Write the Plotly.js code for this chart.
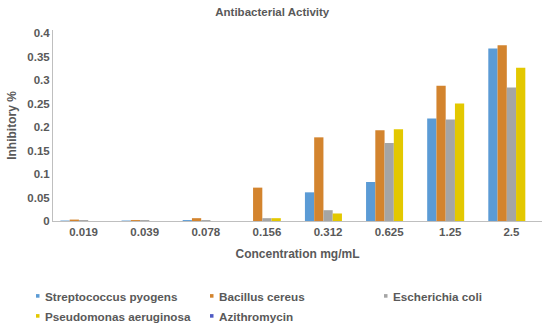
<!DOCTYPE html>
<html><head><meta charset="utf-8">
<script src="https://cdn.plot.ly/plotly-3.0.1.min.js"></script>
<style>html,body{margin:0;padding:0;background:#fff}#chart{width:550px;height:327px}</style>
</head><body><div id="chart"></div>
<script>
const categories = ["0.019","0.039","0.078","0.156","0.312","0.625","1.25","2.5"];
const seriesNames = ["Streptococcus pyogens","Bacillus cereus","Escherichia coli","Pseudomonas aeruginosa","Azithromycin"];
const strepto = [0.001,0.001,0.002,0.000,0.061,0.083,0.218,0.367];
const bacillus = [0.003,0.002,0.006,0.071,0.178,0.193,0.288,0.374];
const ecoli = [0.002,0.002,0.002,0.006,0.023,0.166,0.216,0.284];
const pseudo = [0.000,0.000,0.000,0.006,0.016,0.195,0.250,0.326];
const azithro = [0,0,0,0,0,0,0,0];
const yTicks = [0,0.05,0.1,0.15,0.2,0.25,0.3,0.35,0.4];
const yTickText = ["0","0.05","0.1","0.15","0.2","0.25","0.3","0.35","0.4"];

const colors = ["#5B9BD5","#D3842E","#A5A5A5","#E3C800","#4F5BC4"];
const vals = [strepto,bacillus,ecoli,pseudo,azithro];
const data = vals.map((v,i)=>({type:"bar",x:categories,y:v,name:seriesNames[i],marker:{color:colors[i]},showlegend:false}));

const fam = "Liberation Sans, Arial, sans-serif";
const W = 550, H = 327, M = {l:53,r:8,t:30,b:106};
const pw = W - M.l - M.r, ph = H - M.t - M.b;
const px2x = p => (p - M.l) / pw;
const py2y = p => (H - M.b - p) / ph;

// custom legend layout (3 columns, 2 rows)
const legCols = [45, 219, 393];
const legRows = [296, 316];
const annotations = [], shapes = [];
seriesNames.forEach((n,i)=>{
  const cx = legCols[i % 3], cy = legRows[Math.floor(i / 3)];
  annotations.push({xref:"paper",yref:"paper",x:px2x(cx-2),y:py2y(cy),xanchor:"left",yanchor:"middle",showarrow:false,
    text:"<b>"+n+"</b>",font:{family:fam,size:11.7,color:"#595959"}});
  shapes.push({type:"rect",xref:"paper",yref:"paper",x0:px2x(cx-9),x1:px2x(cx-5.5),y0:py2y(cy+1.7),y1:py2y(cy-1.9),
    fillcolor:colors[i],line:{width:0}});
});

const layout = {
  width:W,height:H,
  margin:M,
  paper_bgcolor:"#fff",plot_bgcolor:"#fff",
  barmode:"group",bargap:0.243,bargroupgap:0,
  title:{text:"<b>Antibacterial Activity</b>",x:0.495,xanchor:"center",y:0.964,yanchor:"middle",font:{family:fam,size:11.5,color:"#595959"}},
  xaxis:{type:"category",showgrid:false,showline:true,linecolor:"#BFBFBF",linewidth:1,ticks:"",automargin:false,
    tickfont:{family:fam,size:11.5,color:"#595959",weight:"bold"},
    title:{text:"<b>Concentration mg/mL</b>",standoff:12,font:{family:fam,size:12,color:"#595959"}}},
  yaxis:{range:[0,0.4064],showgrid:false,showline:true,linecolor:"#BFBFBF",linewidth:1,ticks:"",zeroline:false,automargin:false,
    tickvals:yTicks,ticktext:yTickText,
    tickfont:{family:fam,size:11.5,color:"#595959",weight:"bold"},
    title:{text:"Inhibitory %",standoff:8,font:{family:fam,size:12,color:"#595959",weight:600}}},
  showlegend:false,
  annotations:annotations,
  shapes:shapes
};
Plotly.newPlot("chart",data,layout,{displayModeBar:false,staticPlot:true});
</script></body></html>
